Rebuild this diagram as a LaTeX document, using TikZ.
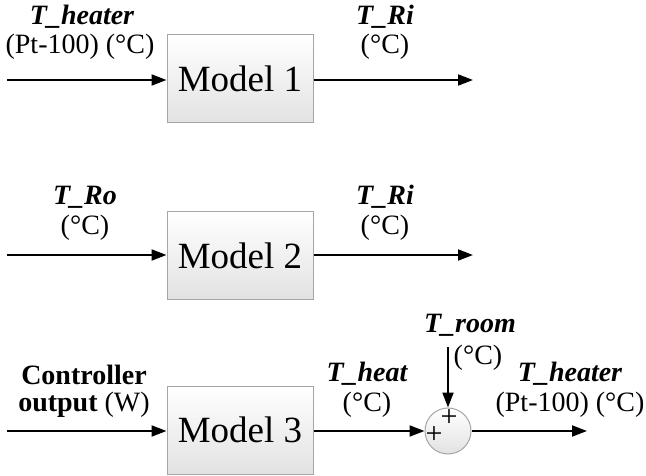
\documentclass[tikz,border=0pt]{standalone}
\usepackage{fontspec}
\setmainfont{Liberation Serif}
\usetikzlibrary{arrows.meta}
\definecolor{boxedge}{HTML}{A6A6A6}
\definecolor{boxbot}{HTML}{E2E2E2}
\tikzset{
  modelbox/.style={draw=boxedge, line width=1pt, top color=white, bottom color=boxbot,
    minimum width=146pt, minimum height=88pt, inner sep=0pt,
    font=\fontsize{37}{40}\selectfont},
  sumnode/.style={circle, draw=boxedge, line width=1pt, top color=white, bottom color=boxbot,
    minimum size=46pt, inner sep=0pt},
  sig/.style={line width=2pt, -{Triangle[length=15pt,width=11pt]}},
  lab/.style={inner sep=0pt, font=\fontsize{28}{30}\selectfont},
  vlab/.style={lab, font=\fontsize{28}{30}\selectfont\bfseries\itshape},
  plus/.style={inner sep=0pt, font=\fontsize{30}{32}\selectfont, text height=0.5em, text depth=-0.02em},
}
\begin{document}
\begin{tikzpicture}[x=1pt,y=-1pt]
\useasboundingbox (0,0) rectangle (646,476);
% row 1
\node[modelbox] (m1) at (240,79) {Model 1};
\coordinate (i1) at (7,80);
\coordinate (o1) at (473,80);
\draw[sig] (i1) -- (m1.west |- i1);
\draw[sig] (m1.east |- o1) -- (o1);
\node[vlab] (l1a) at (82,17) {T\_heater};
\node[lab] (l1b) at (80,47) {(Pt-100) (°C)};
\node[vlab] (l1c) at (385,17) {T\_Ri};
\node[lab] (l1d) at (385,47) {(°C)};
% row 2
\node[modelbox] (m2) at (240,255.5) {Model 2};
\coordinate (i2) at (7,255);
\coordinate (o2) at (473,255);
\draw[sig] (i2) -- (m2.west |- i2);
\draw[sig] (m2.east |- o2) -- (o2);
\node[vlab] (l2a) at (85,197) {T\_Ro};
\node[lab] (l2b) at (85,228) {(°C)};
\node[vlab] (l2c) at (385,197) {T\_Ri};
\node[lab] (l2d) at (385,228) {(°C)};
% row 3
\node[modelbox] (m3) at (240,430) {Model 3};
\node[sumnode] (s) at (448,431) {};
\coordinate (i3) at (7,431);
\coordinate (o3) at (587,431);
\coordinate (t3) at (448,347);
\draw[sig] (i3) -- (m3.west |- i3);
\draw[sig] (m3.east |- s.west) -- (s.west);
\draw[sig] (t3) -- (s.north);
\draw[sig] (s.east) -- (o3);
\node[plus] (p1) at (434,441) {+};
\node[plus] (p2) at (449,424) {+};
\node[lab, font=\fontsize{28}{30}\selectfont\bfseries] (l3a) at (84,375) {Controller};
\node[lab] (l3b) at (84,405) {\textbf{output} (W)};
\node[vlab] (l3c) at (367,374) {T\_heat};
\node[lab] (l3d) at (367,405) {(°C)};
\node[vlab] (l3e) at (470,325) {T\_room};
\node[lab] (l3f) at (478,358) {(°C)};
\node[vlab] (l3g) at (570,374) {T\_heater};
\node[lab] (l3h) at (570,405) {(Pt-100) (°C)};
\end{tikzpicture}
\end{document}
